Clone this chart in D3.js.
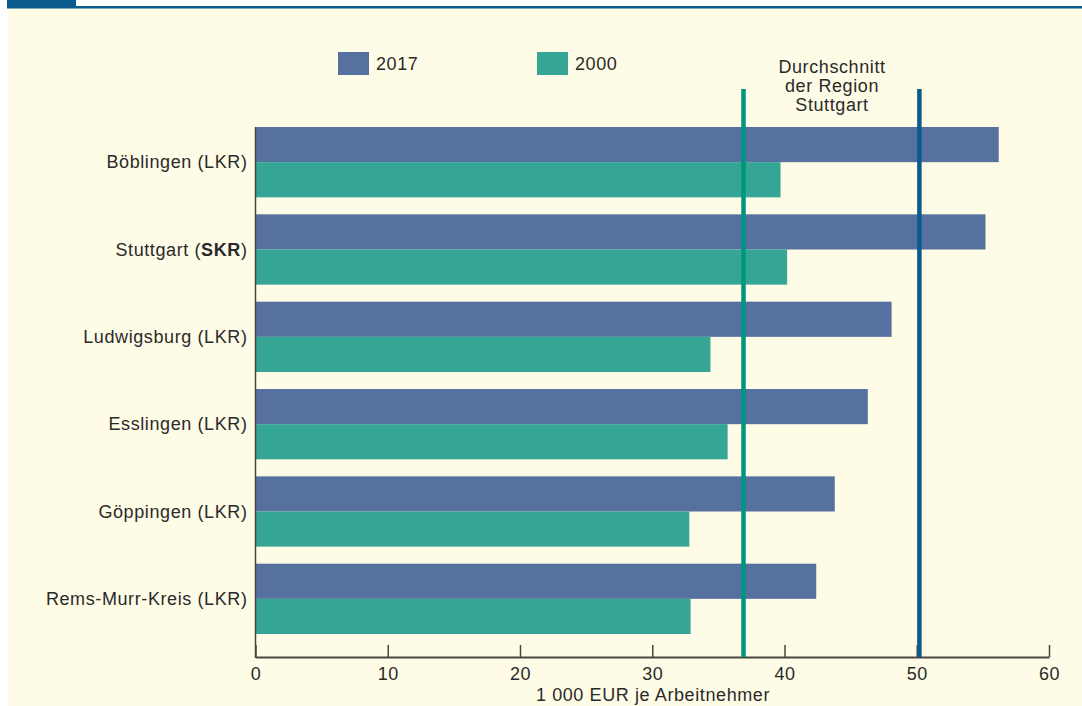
<!DOCTYPE html>
<html>
<head>
<meta charset="utf-8">
<script src="https://cdn.jsdelivr.net/npm/d3@7"></script>
<style>
  body { margin: 0; background: #fff; }
  svg { display: block; font-family: "Liberation Sans", Arial, sans-serif; letter-spacing: 0.6px; }
</style>
</head>
<body>
<div id="main"></div>
<script>
// data
const regions = ["Böblingen (LKR)", "Stuttgart (SKR)", "Ludwigsburg (LKR)", "Esslingen (LKR)", "Göppingen (LKR)", "Rems-Murr-Kreis (LKR)"];
const values2017 = [56.2, 55.2, 48.1, 46.3, 43.8, 42.4];
const values2000 = [39.7, 40.2, 34.4, 35.7, 32.8, 32.9];
const avg2000 = 36.9;
const avg2017 = 50.2;
const xTicks = [0, 10, 20, 30, 40, 50, 60];

let width = 1082;
let height = 706;
let blue = "#56709f";
let green = "#35a595";
let fs = 18;

let svg = d3.select("#main")
            .append("svg")
            .attr("width", width)
            .attr("height", height);

// panel background + header strip
svg.append("rect").attr("x", 8).attr("y", 8).attr("width", width - 8).attr("height", height - 8).attr("fill", "#fefce6");
svg.append("rect").attr("x", 7).attr("y", 6).attr("width", width - 7).attr("height", 2.5).attr("fill", "#0d5a8c");
svg.append("rect").attr("x", 7).attr("y", 0).attr("width", 69).attr("height", 7).attr("fill", "#0d5a8c");

const x = d3.scaleLinear().domain([0, 60]).range([255.5, 1049]);
const y = d3.scaleBand().domain(regions).range([127, 634]).paddingInner(0.195).paddingOuter(0);
const sub = d3.scaleBand().domain(["2017", "2000"]).range([0, y.bandwidth()]);

let groups = svg.selectAll(".grp")
    .data(regions)
    .enter()
    .append("g")
    .attr("class", "grp")
    .attr("transform", d => `translate(0,${y(d)})`);

groups.append("rect")
    .attr("x", x(0))
    .attr("y", sub("2017"))
    .attr("width", (d, i) => x(values2017[i]) - x(0))
    .attr("height", sub.bandwidth())
    .attr("fill", blue);

groups.append("rect")
    .attr("x", x(0))
    .attr("y", sub("2000"))
    .attr("width", (d, i) => x(values2000[i]) - x(0))
    .attr("height", sub.bandwidth())
    .attr("fill", green);

// category labels
groups.append("text")
    .attr("x", x(0) - 8)
    .attr("y", y.bandwidth() / 2)
    .attr("dy", "0.35em")
    .attr("text-anchor", "end")
    .attr("font-size", fs)
    .attr("fill", "#2a2a2a")
    .each(function (d) {
        let t = d3.select(this);
        if (d.includes("SKR")) {
            t.append("tspan").text("Stuttgart (");
            t.append("tspan").attr("font-weight", "bold").text("SKR");
            t.append("tspan").text(")");
        } else {
            t.text(d);
        }
    });

// axes
let axisY = 657;
let xAxis = d3.axisBottom(x).tickValues(xTicks).tickSize(0).tickPadding(10).tickFormat(d3.format("d"));
let gx = svg.append("g").attr("transform", `translate(0,${axisY})`).call(xAxis);
gx.select(".domain").attr("stroke", "#4a4540").attr("stroke-width", 2);
gx.selectAll(".tick text").attr("font-size", fs).attr("fill", "#2a2a2a").attr("font-family", "Liberation Sans, Arial, sans-serif");
gx.selectAll(".tick").append("line").attr("y1", 0).attr("y2", -12).attr("stroke", "#4a4540").attr("stroke-width", 1.5);

svg.append("line")
    .attr("x1", x(0)).attr("x2", x(0))
    .attr("y1", 127).attr("y2", axisY + 1)
    .attr("stroke", "#4a4540").attr("stroke-width", 1.5);

svg.append("text")
    .attr("x", 653)
    .attr("y", 701)
    .attr("text-anchor", "middle")
    .attr("font-size", fs)
    .attr("fill", "#2a2a2a")
    .text("1 000 EUR je Arbeitnehmer");

// average lines
svg.append("line")
    .attr("x1", x(avg2000)).attr("x2", x(avg2000))
    .attr("y1", 89).attr("y2", axisY)
    .attr("stroke", "#00957e").attr("stroke-width", 4.5);
svg.append("line")
    .attr("x1", x(avg2017)).attr("x2", x(avg2017))
    .attr("y1", 89).attr("y2", axisY)
    .attr("stroke", "#0d5a8c").attr("stroke-width", 4.5);

let note = svg.append("text")
    .attr("x", 832)
    .attr("text-anchor", "middle")
    .attr("font-size", fs)
    .attr("fill", "#2a2a2a");
["Durchschnitt", "der Region", "Stuttgart"].forEach((s, i) => {
    note.append("tspan").attr("x", 832).attr("y", 73 + i * 19).text(s);
});

// legend
let legend = [["2017", blue, 338], ["2000", green, 537]];
legend.forEach(l => {
    svg.append("rect").attr("x", l[2]).attr("y", 52).attr("width", 31).attr("height", 23).attr("fill", l[1]);
    svg.append("text").attr("x", l[2] + 38).attr("y", 63.5).attr("dy", "0.35em")
       .attr("font-size", fs).attr("fill", "#2a2a2a").text(l[0]);
});
</script>
</body>
</html>
